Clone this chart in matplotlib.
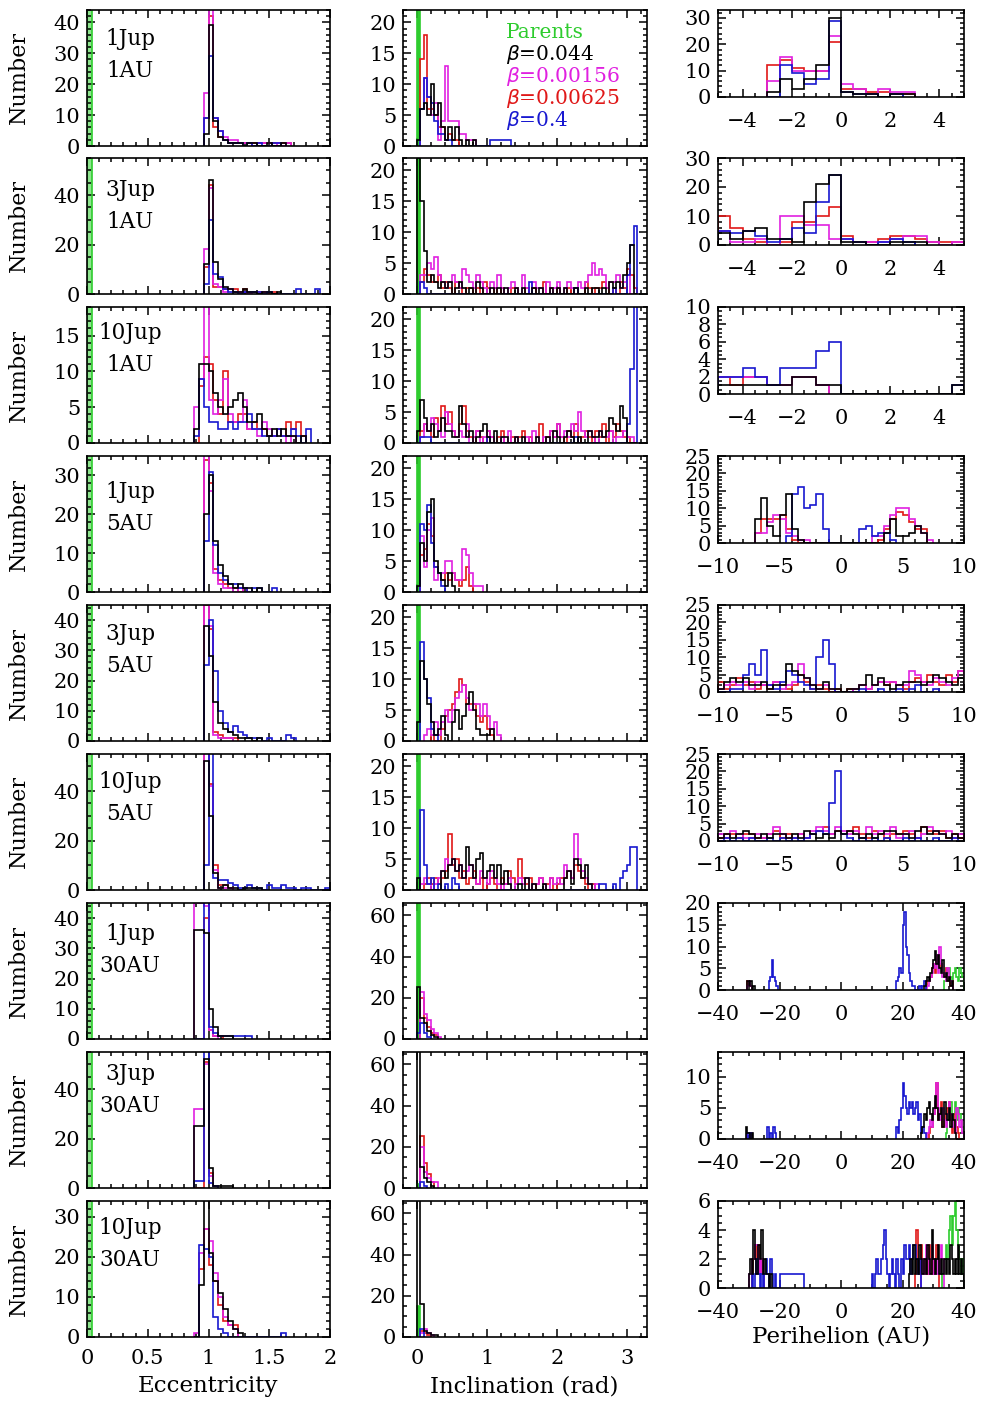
import numpy as np
import matplotlib
matplotlib.use("Agg")
import matplotlib.pyplot as plt
from matplotlib.ticker import MultipleLocator, FuncFormatter

plt.rcParams['font.family'] = ['DejaVu Serif']

W, H = 982, 1402

COLORS = {"g": "#2ecc2e", "r": "#e01818", "m": "#e020e0", "b": "#1818d0", "k": "black"}
DRAW_ORDER = ["g", "r", "m", "b", "k"]

ROW_NAMES = ["1Jup\n1AU", "3Jup\n1AU", "10Jup\n1AU",
             "1Jup\n5AU", "3Jup\n5AU", "10Jup\n5AU",
             "1Jup\n30AU", "3Jup\n30AU", "10Jup\n30AU"]

LEGEND_TEXT = ["Parents", r"$\beta$=0.044", r"$\beta$=0.00156", r"$\beta$=0.00625", r"$\beta$=0.4"]
LEGEND_KEYS = ["g", "k", "m", "r", "b"]

# ---- eccentricity histograms (bin 0.04) : key -> (first edge, counts)
ECC_BIN = 0.04
ecc_1j1au = {"g": (0.0, [100]),
             "r": (0.96, [9, 42, 6, 3, 2, 1, 1, 1, 1, 1, 1, 1, 1, 1, 1, 1, 1, 1]),
             "m": (0.96, [17, 60, 9, 5, 3, 2, 2, 1, 1, 1, 0, 1, 1, 1, 0, 1, 0, 1]),
             "b": (0.96, [9, 29, 9, 5, 2, 1, 1, 1, 0, 1, 0, 1, 0, 0, 1, 1]),
             "k": (0.96, [4, 39, 8, 3, 2, 1, 1, 1, 0, 1, 1, 0, 0, 1, 0, 0, 1])}
ecc_3j1au = {"g": (0.0, [100]),
             "r": (0.96, [11, 44, 3, 3, 2, 2, 2, 1, 2, 1, 1, 1, 1, 0, 1]),
             "m": (0.96, [18, 43, 4, 3, 1, 2, 1, 1, 1, 0, 1, 0, 1]),
             "b": (0.96, [4, 30, 8, 7, 2, 1, 1, 0, 1, 1, 1, 1, 0, 1, 0, 0, 0, 0, 0, 2, 0, 0, 0, 2]),
             "k": (0.96, [12, 46, 13, 6, 3, 2, 1, 1, 2, 1, 1, 0, 1, 1, 0, 1])}
ecc_10j1au = {"g": (0.0, [100]),
              "r": (0.88, [0, 8, 12, 11, 6, 4, 10, 3, 3, 4, 4, 2, 3, 2, 2, 1, 1, 2, 1, 3, 2, 3, 1]),
              "m": (0.88, [5, 9, 25, 6, 4, 6, 9, 4, 3, 3, 6, 2, 2, 1, 3, 2, 1, 2, 1, 0, 1]),
              "b": (0.88, [1, 9, 5, 3, 3, 2, 2, 3, 2, 3, 3, 4, 2, 2, 1, 1, 1, 2, 1, 1, 2, 1, 0, 2]),
              "k": (0.88, [2, 11, 11, 10, 7, 5, 4, 5, 6, 7, 5, 3, 3, 4, 2, 1, 2, 1, 2, 1, 1, 0, 1])}
ecc_1j5au = {"g": (0.0, [100]),
             "r": (0.96, [34, 28, 6, 3, 2, 1, 1, 0, 1]),
             "m": (0.96, [40, 26, 5, 2, 1, 1, 0, 1]),
             "b": (0.96, [13, 31, 12, 5, 3, 2, 2, 1, 1, 0, 1, 1, 0, 0, 1]),
             "k": (0.96, [20, 30, 13, 7, 4, 2, 1, 2, 1, 1, 0, 1])}
ecc_3j5au = {"g": (0.0, [100]),
             "r": (0.96, [45, 37, 3, 2, 1, 1, 1]),
             "m": (0.96, [50, 38, 2, 1, 1, 1]),
             "b": (0.96, [25, 40, 23, 10, 6, 3, 5, 3, 2, 1, 1, 1, 0, 1, 0, 0, 0, 2, 1]),
             "k": (0.96, [38, 28, 13, 6, 4, 3, 2, 1, 1, 1, 0, 1])}
ecc_10j5au = {"g": (0.0, [100]),
              "r": (0.96, [60, 43, 10, 2, 2, 1]),
              "m": (0.96, [60, 42, 8, 1, 1, 1]),
              "b": (0.96, [10, 60, 5, 4, 4, 3, 2, 1, 1, 2, 1, 1, 0, 2, 1, 1, 2, 1, 1, 0, 1, 1, 0, 0, 0, 1]),
              "k": (0.96, [52, 30, 7, 1, 2, 1, 1, 0, 1, 1, 1, 1])}
ecc_1j30au = {"g": (0.0, [100]),
              "r": (0.88, [0, 0, 40, 3, 1, 1]),
              "m": (0.88, [45, 45, 44, 3, 1]),
              "b": (0.88, [0, 0, 48, 4, 2, 1, 1, 1, 1, 1, 1, 1]),
              "k": (0.88, [36, 36, 35, 10, 4, 1, 1, 1])}
ecc_3j30au = {"g": (0.0, [100]),
              "r": (0.88, [0, 0, 51, 6, 1]),
              "m": (0.88, [32, 32, 50, 5, 1]),
              "b": (0.88, [3, 3, 60, 2, 1]),
              "k": (0.88, [25, 25, 52, 8, 1, 1, 1, 1])}
ecc_10j30au = {"g": (0.0, [100]),
               "r": (0.88, [0, 17, 27, 18, 14, 8, 4, 3, 3]),
               "m": (0.88, [1, 21, 27, 24, 16, 10, 5, 3, 2]),
               "b": (0.88, [0, 23, 22, 20, 5, 2, 1, 0, 0, 0, 0, 0, 0, 0, 0, 0, 0, 0, 1]),
               "k": (0.88, [0, 13, 35, 21, 14, 11, 7, 4, 2, 1])}

# ---- inclination histograms (bin 0.05 rad)
INC_BIN = 0.05
inc_1j1au = {"g": (0.0, [100]),
             "r": (0.05, [14, 18, 6, 6, 5, 3, 3, 1, 2, 1, 1]),
             "m": (0.05, [6, 11, 8, 5, 7, 1, 4, 13, 4, 4, 4, 2, 2, 1, 1, 1]),
             "b": (0.05, [6, 11, 8, 7, 4, 2, 2, 1, 1, 0, 0, 0, 0, 0, 0, 0, 0, 0, 0, 0, 1, 1, 1, 1, 1, 1]),
             "k": (0.0, [1, 6, 7, 5, 10, 5, 7, 3, 1, 3, 1, 3, 1, 0, 1, 0, 1])}
inc_3j1au = {"g": (0.0, [100]),
             "r": (0.0, [0, 2, 4, 3, 2, 2, 3, 1, 2, 1, 0, 2, 1, 0, 1, 1, 0, 1, 0, 2, 1, 0, 1, 0, 1, 0, 0, 1, 1, 0, 0,
                         1, 0, 1, 0, 0, 2, 0, 1, 0, 1, 0, 0, 1, 0, 1, 0, 0, 2, 1, 0, 1, 1, 2, 1, 0, 1, 0, 2, 1, 4, 3, 1]),
             "m": (0.0, [0, 3, 3, 5, 4, 6, 3, 2, 1, 2, 3, 2, 1, 4, 3, 2, 1, 3, 2, 1, 0, 2, 1, 3, 1, 0, 1, 2, 1, 0, 3,
                         1, 0, 2, 1, 1, 0, 2, 0, 1, 2, 0, 1, 2, 1, 0, 2, 1, 2, 3, 5, 3, 4, 3, 1, 2, 2, 3, 1, 2, 3, 0, 0]),
             "b": (0.0, [0, 2, 1, 0, 0, 0, 0, 0, 0, 0, 0, 0, 0, 0, 0, 0, 0, 0, 0, 0, 0, 0, 0, 0, 0, 0, 0, 0, 0, 0, 0,
                         0, 2, 0, 0, 0, 0, 0, 0, 0, 0, 0, 0, 0, 0, 1, 0, 0, 0, 0, 0, 0, 0, 0, 0, 0, 1, 0, 0, 0, 3, 8, 11]),
             "k": (0.0, [22, 15, 7, 2, 3, 2, 1, 2, 1, 2, 0, 1, 2, 1, 0, 1, 0, 2, 1, 0, 0, 1, 0, 1, 0, 1, 0, 0, 1, 0, 1,
                         0, 0, 1, 0, 1, 0, 0, 1, 0, 1, 0, 1, 0, 0, 1, 0, 0, 1, 0, 1, 1, 0, 1, 0, 2, 1, 2, 1, 3, 5, 8, 0])}
inc_10j1au = {"g": (0.0, [100]),
              "r": (0.0, [0, 2, 3, 2, 1, 4, 2, 6, 3, 5, 2, 1, 3, 6, 2, 1, 0, 2, 1, 0, 2, 1, 0, 1, 2, 0, 0, 1, 0, 1, 2,
                          0, 1, 0, 0, 3, 0, 1, 2, 1, 3, 1, 0, 2, 1, 3, 0, 1, 2, 1, 0, 2, 1, 3, 0, 2, 1, 3, 2, 1, 1, 0, 0]),
              "m": (0.0, [0, 1, 3, 2, 4, 3, 2, 1, 5, 3, 2, 1, 2, 1, 3, 0, 1, 2, 0, 1, 2, 1, 0, 0, 1, 0, 2, 0, 1, 0, 0,
                          1, 0, 2, 1, 0, 1, 0, 2, 1, 3, 1, 2, 1, 3, 2, 5, 2, 1, 2, 1, 0, 2, 1, 1, 2, 0, 1, 1, 2, 1, 1, 0]),
              "b": (0.0, [0, 1, 1, 1, 0, 0, 0, 0, 0, 0, 0, 0, 0, 0, 0, 0, 0, 0, 0, 0, 1, 0, 0, 0, 0, 0, 0, 0, 0, 0, 0,
                          0, 0, 0, 0, 0, 0, 0, 0, 0, 0, 0, 0, 0, 0, 1, 0, 0, 0, 0, 0, 0, 0, 0, 0, 0, 0, 0, 0, 0, 3, 12, 25]),
              "k": (0.0, [2, 7, 4, 2, 3, 1, 2, 4, 2, 2, 1, 1, 6, 3, 1, 2, 0, 1, 2, 3, 1, 0, 2, 0, 1, 1, 0, 0, 1, 0, 1,
                          0, 0, 0, 1, 0, 0, 1, 0, 2, 1, 0, 1, 2, 1, 0, 1, 0, 0, 2, 1, 1, 2, 1, 2, 4, 3, 2, 6, 4, 0, 0, 0])}
inc_1j5au = {"g": (0.0, [100]),
             "r": (0.05, [6, 7, 11, 9, 4, 3, 2, 3, 2, 3, 2, 1, 2, 4, 1]),
             "m": (0.05, [9, 4, 10, 12, 2, 3, 3, 5, 5, 3, 2, 2, 7, 6, 3, 1, 1, 1]),
             "b": (0.05, [11, 10, 14, 8, 4, 3, 1]),
             "k": (0.0, [1, 8, 5, 13, 15, 5, 3, 2, 1, 3, 1])}
inc_3j5au = {"g": (0.0, [100]),
             "r": (0.2, [1, 0, 0, 2, 4, 5, 6, 8, 10, 9, 6, 6, 6, 4, 3, 4, 2, 1]),
             "m": (0.1, [1, 2, 1, 3, 1, 3, 5, 3, 5, 7, 8, 9, 7, 5, 6, 6, 4, 6, 4, 2, 3, 1]),
             "b": (0.05, [16, 10, 7, 2, 1]),
             "k": (0.0, [3, 13, 10, 6, 3, 1, 2, 4, 1, 0, 3, 5, 2, 4, 6, 8, 5, 2, 1, 1, 1, 2])}
inc_10j5au = {"g": (0.0, [100]),
              "r": (0.0, [0, 0, 1, 2, 1, 2, 1, 2, 3, 9, 4, 5, 2, 3, 1, 2, 3, 1, 2, 0, 1, 2, 1, 0, 2, 1, 3, 2, 1, 5,
                          2, 1, 2, 0, 1, 2, 1, 1, 2, 0, 1, 2, 2, 3, 2, 4, 3, 2, 1, 0, 1]),
              "m": (0.0, [0, 1, 2, 1, 0, 1, 2, 3, 5, 4, 5, 3, 4, 2, 3, 4, 2, 1, 3, 2, 1, 3, 2, 1, 0, 1, 2, 0, 1, 2,
                          1, 2, 0, 1, 1, 2, 1, 0, 2, 1, 2, 1, 4, 3, 2, 9, 5, 3, 2, 1, 0, 1]),
              "b": (0.0, [0, 13, 4, 1, 2, 0, 1, 0, 1, 0, 2, 1, 0, 0, 0, 0, 0, 0, 0, 0, 0, 0, 0, 0, 0, 0, 0, 0, 0, 0,
                          0, 0, 0, 0, 0, 0, 0, 0, 0, 0, 0, 0, 0, 0, 0, 0, 0, 0, 0, 0, 0, 0, 1, 1, 0, 0, 1, 0, 2, 3, 4, 7, 7]),
              "k": (0.0, [2, 0, 0, 0, 0, 0, 0, 3, 2, 4, 5, 3, 4, 2, 7, 4, 2, 5, 6, 2, 3, 4, 2, 4, 1, 3, 1, 0, 0, 1,
                          0, 2, 0, 1, 0, 0, 1, 0, 0, 0, 0, 0, 2, 3, 1, 5, 4, 2, 4, 1])}
inc_1j30au = {"g": (0.0, [100]),
              "r": (0.05, [20, 10, 6, 3, 2]),
              "m": (0.05, [23, 12, 9, 5, 3, 1]),
              "b": (0.0, [3, 8, 3, 1]),
              "k": (0.0, [25, 10, 8, 4, 2, 1])}
inc_3j30au = {"g": (0.0, [2]),
              "r": (0.05, [25, 12, 7, 3]),
              "m": (0.05, [20, 8, 5, 3, 3]),
              "b": (0.05, [3, 1]),
              "k": (0.0, [100, 10, 5, 3, 1])}
inc_10j30au = {"g": (0.0, [15]),
               "r": (0.05, [3, 2, 1]),
               "m": (0.05, [2, 4, 2, 1]),
               "b": (0.05, [4]),
               "k": (0.0, [100, 16, 3, 2, 1, 1])}

# ---- perihelion histograms (bin 0.5 AU)
PERI_BIN = 0.5
peri_1j1au = {"r": (-3.0, [12, 14, 11, 10, 10, 21, 3, 3, 2, 2, 1, 1]),
              "m": (-3.0, [6, 15, 10, 10, 10, 23, 5, 3, 1, 3, 2, 2]),
              "b": (-3.0, [0, 12, 9, 5, 7, 29, 2, 1, 1, 0, 1]),
              "k": (-3.0, [2, 7, 3, 7, 12, 30, 2, 1, 1, 0, 1, 1])}
peri_3j1au = {"r": (-5.0, [10, 6, 2, 1, 0, 1, 8, 8, 10, 13, 3, 1, 1, 2, 3, 3, 2, 1, 1, 1]),
              "m": (-5.0, [5, 1, 1, 2, 0, 10, 10, 7, 7, 2, 2, 1, 1, 1, 2, 3, 3, 1, 0, 1]),
              "b": (-5.0, [5, 4, 5, 3, 1, 2, 6, 4, 15, 24, 2, 1, 0, 1, 2, 1]),
              "k": (-5.0, [4, 2, 5, 6, 2, 2, 1, 15, 21, 24, 1, 1, 0, 0, 1, 1, 1])}
peri_10j1au = {"r": (-5.0, [2, 1, 2, 2, 1, 1, 2, 2, 1]),
               "m": (-5.0, [2, 2, 2, 2, 1, 1, 2, 2, 1]),
               "b": (-5.0, [2, 2, 3, 2, 1, 3, 3, 3, 5, 6, 0, 0, 0, 0, 0, 0, 0, 0, 0, 1]),
               "k": (-5.0, [1, 1, 1, 1, 1, 1, 2, 2, 1, 1, 0, 0, 0, 0, 0, 0, 0, 0, 0, 1])}
peri_1j5au = {"r": (-7.0, [3, 7, 7, 7, 8, 4, 1, 0, 0, 0, 0, 0, 0, 0, 0, 0, 0, 0, 0, 0, 1, 4, 7, 9, 8, 6, 4, 4]),
              "m": (-7.0, [3, 3, 6, 8, 7, 3, 2, 1, 1, 0, 0, 0, 0, 0, 0, 0, 0, 0, 0, 2, 2, 5, 8, 10, 10, 7, 5, 3, 1]),
              "b": (-4.5, [2, 14, 16, 10, 11, 14, 4, 0, 0, 0, 0, 0, 4, 5, 2, 3, 3, 1]),
              "k": (-7.0, [7, 13, 5, 2, 8, 14, 4, 1, 0, 0, 0, 0, 0, 0, 0, 0, 0, 0, 0, 0, 0, 3, 7, 2, 2, 3, 5, 3])}
peri_3j5au = {"r": (-10.0, [3, 1, 2, 4, 2, 3, 1, 2, 1, 3, 2, 1, 2, 5, 3, 1, 2, 1, 0, 1,
                            0, 1, 1, 2, 1, 2, 3, 2, 3, 2, 1, 3, 4, 3, 5, 3, 2, 5, 3, 6]),
              "m": (-10.0, [1, 2, 3, 2, 3, 1, 3, 2, 2, 3, 1, 2, 3, 8, 4, 2, 1, 2, 1, 0,
                            0, 0, 1, 2, 1, 2, 3, 3, 3, 2, 2, 6, 5, 3, 2, 4, 3, 2, 4, 6]),
              "b": (-10.0, [0, 0, 1, 1, 5, 8, 5, 12, 2, 1, 3, 6, 5, 3, 2, 1, 10, 15, 8, 0,
                            0, 0, 0, 1, 0, 0, 1, 0, 0, 1, 0, 1, 2, 0, 0, 1]),
              "k": (-10.0, [1, 3, 4, 3, 4, 2, 2, 3, 1, 2, 2, 8, 6, 5, 4, 2, 1, 3, 1, 1,
                            0, 1, 1, 2, 5, 2, 4, 2, 1, 2, 3, 3, 3, 2, 3, 5, 4, 3, 2, 4])}
peri_10j5au = {"r": (-10.0, [1, 2, 2, 1, 2, 2, 1, 1, 2, 3, 1, 2, 1, 2, 1, 2, 3, 4, 2, 3,
                             2, 3, 4, 2, 1, 3, 2, 1, 2, 2, 3, 2, 1, 4, 3, 2, 3, 1, 2, 1]),
               "m": (-10.0, [2, 1, 3, 2, 1, 1, 2, 1, 2, 4, 2, 1, 1, 2, 1, 3, 4, 3, 2, 4,
                             3, 2, 3, 1, 4, 2, 3, 2, 4, 1, 2, 3, 1, 2, 4, 3, 2, 3, 1, 2]),
               "b": (-10.0, [0, 1, 0, 1, 0, 1, 0, 0, 1, 0, 1, 0, 1, 0, 1, 2, 3, 2, 11, 20,
                             2, 1, 0, 1, 0, 1, 0, 1, 0, 0, 1, 0, 1, 0, 0, 1, 0, 0, 1]),
               "k": (-10.0, [1, 2, 1, 2, 3, 2, 1, 2, 1, 2, 2, 1, 2, 1, 3, 2, 1, 2, 1, 3,
                             2, 3, 2, 1, 2, 1, 2, 3, 3, 2, 2, 1, 3, 4, 2, 3, 2, 1, 2, 1])}
peri_1j30au = {"g": [(33.5, [2, 3, 4, 5, 3, 2, 4, 5, 3, 2, 5, 4, 3])],
               "r": [(-30.5, [2, 1, 1]), (27.5, [1, 2, 2, 3, 5, 6, 4, 7, 8, 5, 6, 4, 3, 5, 2, 3, 1, 2])],
               "m": [(-30.5, [1, 2, 1]), (28.0, [1, 2, 3, 4, 6, 5, 8, 4, 10, 6, 3, 4, 2, 5, 3, 2, 1])],
               "b": [(-23.5, [2, 3, 7, 3, 2, 1]),
                     (18.0, [2, 3, 5, 4, 15, 18, 10, 8, 4, 2, 1, 1, 0, 0, 0, 1, 0, 1, 2])],
               "k": [(-30.5, [2, 1, 2, 0, 1]), (27.0, [1, 2, 3, 2, 4, 5, 7, 9, 6, 8, 5, 4, 7, 3, 4, 2, 3, 1, 2])]}
peri_3j30au = {"g": [(34.0, [1, 3, 5, 6, 2, 4, 6, 3, 5, 4, 3, 2])],
               "r": [(-30.5, [1, 1]), (28.5, [1, 2, 2, 4, 5, 9, 3, 4, 6, 2, 3, 4, 5, 6, 3, 1, 2, 4, 2, 1])],
               "m": [(-30.5, [1, 1, 1]), (28.0, [1, 2, 3, 2, 4, 6, 9, 5, 3, 4, 5, 3, 2, 4, 6, 4, 3, 2, 1, 5, 4, 2, 3, 1])],
               "b": [(-30.5, [1, 0, 1]), (-24.0, [2, 0, 1]), (-22.0, [2, 1]),
                     (18.0, [2, 1, 3, 5, 9, 7, 5, 4, 6, 5, 6, 4, 5, 6, 3, 4, 1, 2, 1])],
               "k": [(-31.0, [2, 1, 1, 0, 1]),
                     (26.0, [1, 2, 4, 3, 5, 6, 4, 3, 5, 7, 5, 3, 4, 5, 2, 6, 4, 3, 5, 2, 4, 3, 1])]}
peri_10j30au = {"g": [(33.0, [1, 2, 3, 2, 4, 5, 3, 5, 6, 4, 3, 2, 1, 2])],
                "r": [(-29.0, [1, 2, 3, 2, 3, 1, 2, 1]), (24.0, [1, 4, 2, 1, 3, 2, 1, 2, 1, 3, 2, 1, 2, 1, 3, 2])],
                "m": [(-30.0, [1, 1, 2, 2, 3, 3, 2, 1, 2, 1]), (26.0, [1, 2, 1, 3, 2, 1, 2, 3, 1, 2, 1, 2, 1, 3, 2])],
                "b": [(-29.0, [1, 0, 1, 2, 1, 0, 1, 0, 1, 2, 1, 0, 2, 1, 0, 1, 0, 0, 1, 1, 1, 1, 1, 1, 1, 1, 1, 1, 1, 1, 1, 1, 1, 1]),
                      (10.0, [1, 0, 1, 2, 1, 1, 2, 3, 4, 2, 1, 0, 1, 2, 1, 0, 2, 1, 0, 2, 1, 3, 2, 2, 3, 1, 2, 3, 3, 2, 1, 2])],
                "k": [(-30.0, [1, 2, 1, 4, 2, 1, 3, 2, 4, 1, 2, 1, 1, 0, 1]),
                      (22.0, [1, 2, 1, 3, 1, 2, 1, 3, 2, 1, 2, 1, 3, 2, 1, 4, 2, 1, 2, 3, 1, 2, 1, 2, 1, 2, 1, 3, 2, 1, 2, 1, 3, 1, 2, 1])]}

ECC_DATA = [ecc_1j1au, ecc_3j1au, ecc_10j1au, ecc_1j5au, ecc_3j5au, ecc_10j5au, ecc_1j30au, ecc_3j30au, ecc_10j30au]
INC_DATA = [inc_1j1au, inc_3j1au, inc_10j1au, inc_1j5au, inc_3j5au, inc_10j5au, inc_1j30au, inc_3j30au, inc_10j30au]
PERI_DATA = [peri_1j1au, peri_3j1au, peri_10j1au, peri_1j5au, peri_3j5au, peri_10j5au,
             peri_1j30au, peri_3j30au, peri_10j30au]

# axis ranges / tick steps per row
ECC_YMAX = [44, 55, 19, 35, 45, 55, 45, 55, 34]
ECC_YMAJ = [10, 20, 5, 10, 10, 20, 10, 20, 10]
ECC_YMIN = [2, 5, 1, 2, 2, 5, 2, 5, 2]
INC_YMAX = [22, 22, 22, 22, 22, 22, 66, 66, 66]
INC_YMAJ = [5, 5, 5, 5, 5, 5, 20, 20, 20]
INC_YMIN = [1, 1, 1, 1, 1, 1, 5, 5, 5]
PERI_XLIM = [5, 5, 5, 10, 10, 10, 40, 40, 40]
PERI_XMAJ = [2, 2, 2, 5, 5, 5, 20, 20, 20]
PERI_XMIN = [0.5, 0.5, 0.5, 1, 1, 1, 5, 5, 5]
PERI_YMAX = [33, 30, 10, 25, 25, 25, 20, 14, 6]
PERI_YMAJ = [10, 10, 2, 5, 5, 5, 5, 5, 2]
PERI_YMIN = [2, 2, 0.5, 1, 1, 1, 1, 1, 0.5]

# pixel layout
COL_X = [87, 403, 718]
COL_W = [243, 244, 246]
ROW_TOP = [10, 158, 307, 456, 605, 754, 903, 1052, 1201]
MAIN_H = 136
PERI_H = 87
NAME_Y = [55, 206, 349, 508, 650, 798, 950, 1090, 1244]

FS = 15


def fmt(v, pos=None):
    return f"{v:g}".replace("-", "\u2212")


def make_axes(fig, x, top, w, h):
    return fig.add_axes([x / W, 1 - (top + h) / H, w / W, h / H])


def style(ax, xmaj, xmin, ymaj, ymin):
    ax.xaxis.set_major_locator(MultipleLocator(xmaj))
    ax.xaxis.set_minor_locator(MultipleLocator(xmin))
    ax.yaxis.set_major_locator(MultipleLocator(ymaj))
    ax.yaxis.set_minor_locator(MultipleLocator(ymin))
    ax.xaxis.set_major_formatter(FuncFormatter(fmt))
    ax.yaxis.set_major_formatter(FuncFormatter(fmt))
    ax.tick_params(which="both", direction="in", top=True, right=True, width=1.1, labelsize=FS)
    ax.tick_params(which="major", length=6)
    ax.tick_params(which="minor", length=3)
    ax.tick_params(axis="y", pad=5)
    ax.tick_params(axis="x", pad=9)
    for s in ax.spines.values():
        s.set_linewidth(1.2)


def draw_hist(ax, series, width):
    for key in DRAW_ORDER:
        if key not in series:
            continue
        parts = series[key]
        if isinstance(parts, tuple):
            parts = [parts]
        for start, counts in parts:
            counts = np.asarray(counts, dtype=float)
            edges = start + width * np.arange(len(counts) + 1)
            if key == "g" and width < 0.1:
                ax.stairs(counts, edges, fill=True, color="#8ee48e" if width == ECC_BIN else COLORS["g"],
                          zorder=1)
            ax.stairs(counts, edges, color=COLORS[key], lw=1.2, zorder=2)


def main():
    fig = plt.figure(figsize=(W / 100, H / 100), dpi=100)

    for i in range(9):
        last = i == 8

        # eccentricity
        ax = make_axes(fig, COL_X[0], ROW_TOP[i], COL_W[0], MAIN_H)
        draw_hist(ax, ECC_DATA[i], ECC_BIN)
        ax.set_xlim(0, 2)
        ax.set_ylim(0, ECC_YMAX[i])
        style(ax, 0.5, 0.1, ECC_YMAJ[i], ECC_YMIN[i])
        if not last:
            ax.tick_params(labelbottom=False)
        ax.set_ylabel("Number", fontsize=16)
        ax.yaxis.set_label_coords(-0.235, 0.5)
        fig.text(130 / W, 1 - NAME_Y[i] / H, ROW_NAMES[i], ha="center", va="center",
                 fontsize=15.5, linespacing=1.55)

        # inclination
        ax = make_axes(fig, COL_X[1], ROW_TOP[i], COL_W[1], MAIN_H)
        draw_hist(ax, INC_DATA[i], INC_BIN)
        ax.set_xlim(-0.2, 3.29)
        ax.set_ylim(0, INC_YMAX[i])
        style(ax, 1, 0.2, INC_YMAJ[i], INC_YMIN[i])
        if not last:
            ax.tick_params(labelbottom=False)

        # perihelion
        ax = make_axes(fig, COL_X[2], ROW_TOP[i], COL_W[2], PERI_H)
        draw_hist(ax, PERI_DATA[i], PERI_BIN)
        ax.set_xlim(-PERI_XLIM[i], PERI_XLIM[i])
        ax.set_ylim(0, PERI_YMAX[i])
        style(ax, PERI_XMAJ[i], PERI_XMIN[i], PERI_YMAJ[i], PERI_YMIN[i])
        ax.tick_params(axis="x", pad=11)

    # legend text in the first inclination panel
    for j, (txt, key) in enumerate(zip(LEGEND_TEXT, LEGEND_KEYS)):
        fig.text(506 / W, 1 - (33 + 22 * j) / H, txt, color=COLORS[key], fontsize=14.5,
                 ha="left", va="center")

    fig.text(208 / W, 1 - 1386 / H, "Eccentricity", ha="center", va="center", fontsize=16.5)
    fig.text(524 / W, 1 - 1386 / H, "Inclination (rad)", ha="center", va="center", fontsize=16.5)
    fig.text(841 / W, 1 - 1337 / H, "Perihelion (AU)", ha="center", va="center", fontsize=16.5)

    fig.savefig("out.png", dpi=100, facecolor="white")
    plt.close(fig)


if __name__ == "__main__":
    main()
